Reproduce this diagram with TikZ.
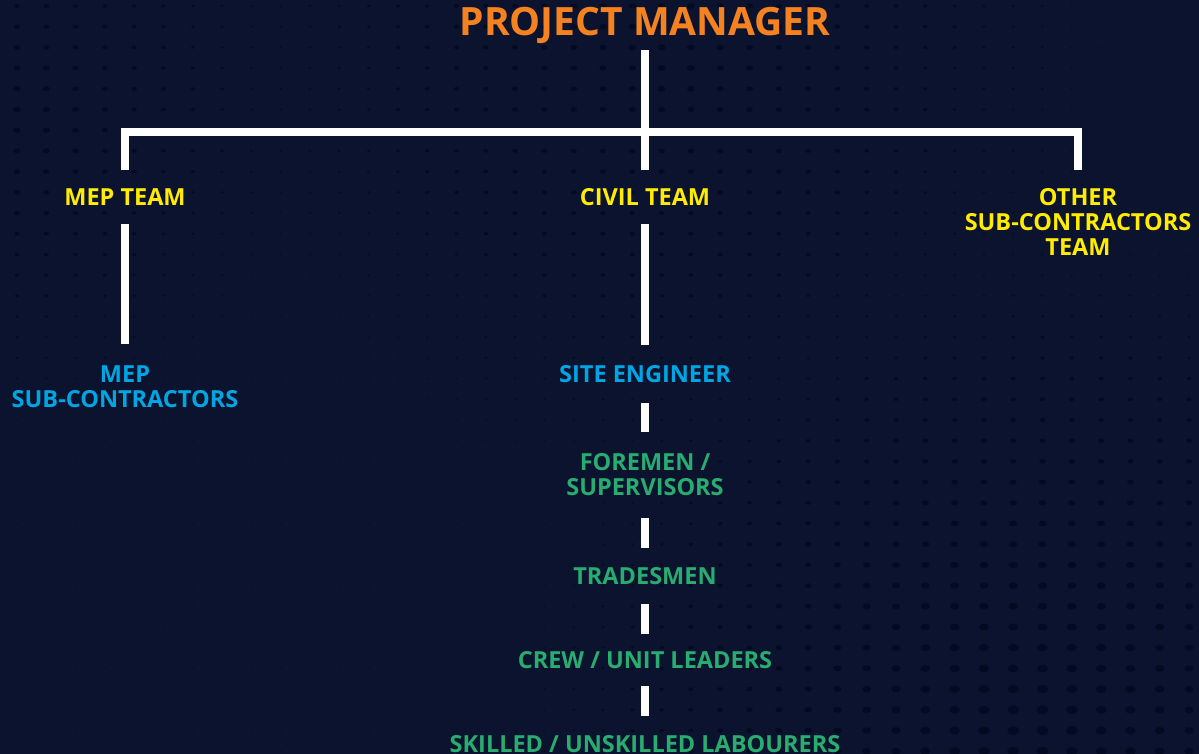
\documentclass[tikz,border=0pt]{standalone}
\usepackage{fontspec}
\setmainfont{Open Sans}
\definecolor{bgnavy}{RGB}{11,19,46}
\definecolor{dotnavy}{RGB}{4,10,34}
\definecolor{pmorange}{RGB}{245,130,32}
\definecolor{teamyellow}{RGB}{255,236,0}
\definecolor{subblue}{RGB}{0,166,228}
\definecolor{crewgreen}{RGB}{40,172,112}
\begin{document}
\begin{tikzpicture}[x=1pt,y=-1pt]
  \tikzstyle{title}=[font=\bfseries\fontsize{39}{39}\selectfont,text=pmorange,inner sep=0pt,minimum height=50pt]
  \tikzstyle{level}=[font=\bfseries\fontsize{23.5}{25}\selectfont,align=center,inner sep=0pt,minimum height=56pt]
  \tikzstyle{team}=[level,text=teamyellow,minimum height=54pt]
  \tikzstyle{sub}=[level,text=subblue]
  \tikzstyle{crew}=[level,text=crewgreen]
  \tikzstyle{link}=[draw=white,line width=8pt]
  \useasboundingbox (0,0) rectangle (1199,754);
  \fill[bgnavy] (0,0) rectangle (1199,754);
  % halftone dots
  \foreach \i in {0,...,40} \foreach \j in {0,...,36} {
    \pgfmathsetmacro{\r}{max(0.5,3*max(0,1-veclen(\i*29.3-650,\j*20.7-30)/550),2.8*max(0,1-veclen(\i*29.3,\j*20.7-110)/380),4.5*max(0,1-veclen(\i*29.3-1020,\j*20.7-740)/600))}
    \fill[dotnavy] (\i*29.3+17,\j*20.7+6) ellipse [x radius=1.4*\r, y radius=\r];
  }
  \node[title] (pm) at (645,25) {PROJECT MANAGER};
  \node[team] (mep) at (125,197) {MEP TEAM};
  \node[team] (civil) at (645,197) {CIVIL TEAM};
  \node[team,minimum height=104pt] (other) at (1078,222) {OTHER\\SUB-CONTRACTORS\\TEAM};
  \node[sub,minimum height=85pt] (mepsub) at (125,386.5) {MEP\\SUB-CONTRACTORS};
  \node[sub,minimum height=58pt] (site) at (645,374) {SITE ENGINEER};
  \node[crew,minimum height=85pt] (foremen) at (645,475) {FOREMEN /\\SUPERVISORS};
  \node[crew] (trades) at (645,576) {TRADESMEN};
  \node[crew,minimum height=52pt] (leaders) at (645,660) {CREW / UNIT LEADERS};
  \node[crew] (labourers) at (645,744) {SKILLED / UNSKILLED LABOURERS};
  \coordinate (bar) at (645,132);
  \draw[link] (pm) -- (civil);
  \draw[link] (mep.north) |- (bar) -| (other.north);
  \draw[link] (mep) -- (mepsub);
  \draw[link] (civil) -- (site);
  \draw[link] (site) -- (foremen);
  \draw[link] (foremen) -- (trades);
  \draw[link] (trades) -- (leaders);
  \draw[link] (leaders) -- (labourers);
\end{tikzpicture}
\end{document}
